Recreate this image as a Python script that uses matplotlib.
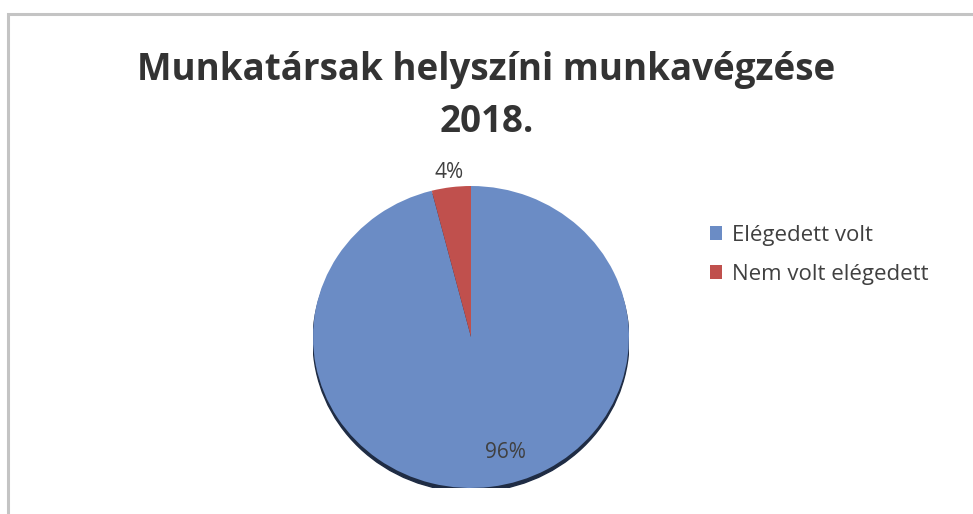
import numpy as np
import matplotlib.pyplot as plt
from matplotlib.patches import Ellipse, Rectangle

labels = ["Elégedett volt", "Nem volt elégedett"]
values = [96, 4]
colors = ["#6b8cc5", "#c0504d"]
title = "Munkatársak helyszíni munkavégzése\n2018."

W, H = 973, 514
fig = plt.figure(figsize=(W / 100, H / 100), dpi=100)
fig.patch.set_facecolor("white")

# chart border (left and top edges visible)
fig.patches.append(Rectangle((8 / W, -0.1), 2, 1.1 - 14 / H, transform=fig.transFigure,
                             fill=False, edgecolor="#c4c4c4", linewidth=2.2))

fig.text(0.5, 1 - 96 / H, title, ha="center", va="center", fontsize=26.5,
         fontweight="bold", family="Open Sans", color="#333333", linespacing=1.45)

cx, cy, rx, ry = 471, 337, 158, 151
ax = fig.add_axes([(cx - rx) / W, (H - cy - ry) / H, 2 * rx / W, 2 * ry / H])

# soft shadow under the pie
ax.add_patch(Ellipse((0.0, -0.025), 2.0, 2.0, color="#1f2c44", zorder=0))

wedges, texts, autotexts = ax.pie(values, colors=colors, startangle=90, counterclock=False,
                                  autopct=lambda p: f"{p:.0f}%", pctdistance=0.75,
                                  radius=1.0, textprops=dict(fontsize=15, color="#404040",
                                                             family="Open Sans"))
for w in wedges:
    w.set_zorder(1)

# small slice label sits outside the pie
for w, t, v in zip(wedges, autotexts, values):
    ang = np.deg2rad((w.theta1 + w.theta2) / 2)
    if v < 10:
        t.set_position((1.1 * np.cos(ang), 1.1 * np.sin(ang)))
    else:
        t.set_position((0.77 * np.cos(ang) + 0.12, 0.77 * np.sin(ang)))
ax.set_aspect("auto")
ax.set_xlim(-1, 1)
ax.set_ylim(-1, 1)
ax.axis("off")

leg = fig.legend(wedges, labels, loc="upper left", bbox_to_anchor=(690 / W, 1 - 205 / H),
                 frameon=False, handlelength=0.55, handleheight=0.55,
                 handletextpad=0.45, labelspacing=0.8, prop=dict(family="Open Sans", size=16))
for t in leg.get_texts():
    t.set_color("#404040")

fig.savefig("out.png", dpi=100)
